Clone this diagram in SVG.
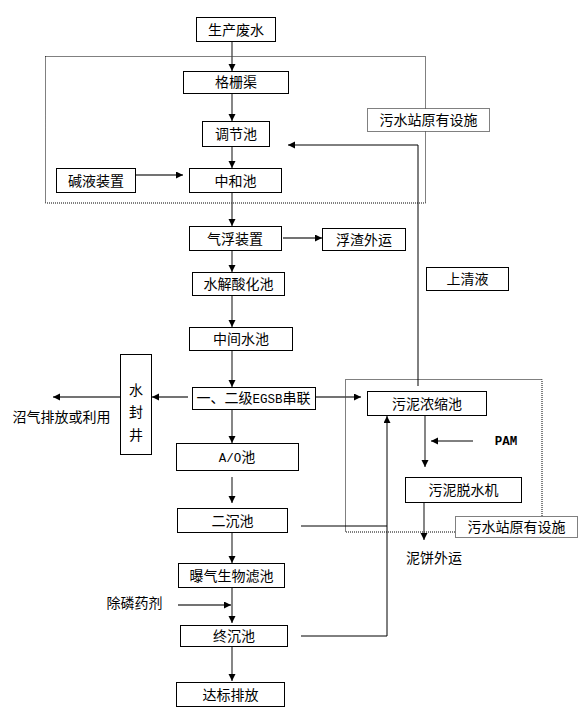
<svg xmlns="http://www.w3.org/2000/svg" width="586" height="714" viewBox="0 0 586 714">
<style>
  .box{fill:#fff;stroke:#000;stroke-width:1}
  .dot{fill:none;stroke:#000;stroke-width:1;stroke-dasharray:1 1}
  .dotl{fill:#fff;stroke:#000;stroke-width:1;stroke-dasharray:1 1}
  .t{font-family:"Noto Sans CJK SC","Liberation Sans",sans-serif;font-size:14px;fill:#000;text-anchor:middle}
  .m{font-family:"Liberation Mono",monospace;font-size:12.5px}
  .f{fill:none;stroke:#444;stroke-width:1.3}
  .k{fill:none;stroke:#000;stroke-width:1}
</style>
<defs>
  <marker id="ah" markerUnits="userSpaceOnUse" markerWidth="8" markerHeight="8" refX="7" refY="3.5" orient="auto">
    <path d="M0,0 L7,3.5 L0,7 z" fill="#000"/>
  </marker>
</defs>
<rect width="586" height="714" fill="#fff"/>
<g id="frames">
  <rect class="dot" x="45.5" y="56.5" width="380" height="146.5"/>
  <rect class="dot" x="345.5" y="379.5" width="196.5" height="152.5"/>
</g>
<g id="connectors">
  <line class="f" x1="232" y1="42" x2="232" y2="71" marker-end="url(#ah)"/>
  <line class="f" x1="232" y1="93" x2="232" y2="121" marker-end="url(#ah)"/>
  <line class="f" x1="232" y1="146" x2="232" y2="168" marker-end="url(#ah)"/>
  <line class="f" x1="135" y1="175" x2="183" y2="175" marker-end="url(#ah)"/>
  <line class="f" x1="232" y1="192" x2="232" y2="226" marker-end="url(#ah)"/>
  <line class="f" x1="283" y1="238" x2="322" y2="238" marker-end="url(#ah)"/>
  <line class="f" x1="232" y1="250" x2="232" y2="272" marker-end="url(#ah)"/>
  <line class="f" x1="232" y1="295" x2="232" y2="327" marker-end="url(#ah)"/>
  <line class="f" x1="232" y1="350" x2="232" y2="387" marker-end="url(#ah)"/>
  <line class="f" x1="188" y1="397" x2="152" y2="397" marker-end="url(#ah)"/>
  <line class="f" x1="120" y1="397" x2="53" y2="397" marker-end="url(#ah)"/>
  <line class="f" x1="315" y1="397" x2="361" y2="397" marker-end="url(#ah)"/>
  <line class="f" x1="232" y1="409" x2="232" y2="443" marker-end="url(#ah)"/>
  <line class="f" x1="232" y1="477" x2="232" y2="503" marker-end="url(#ah)"/>
  <line class="f" x1="232" y1="532" x2="232" y2="563" marker-end="url(#ah)"/>
  <line class="f" x1="232" y1="587" x2="232" y2="623" marker-end="url(#ah)"/>
  <line class="f" x1="178" y1="605" x2="231" y2="605" marker-end="url(#ah)"/>
  <line class="f" x1="232" y1="646" x2="232" y2="681" marker-end="url(#ah)"/>
  <polyline class="k" points="418,386 418,145 288,145" marker-end="url(#ah)"/>
  <line class="k" x1="301" y1="526" x2="387" y2="526"/>
  <polyline class="k" points="301,636 387,636 387,416" marker-end="url(#ah)"/>
  <line class="k" x1="473" y1="441" x2="431" y2="441" marker-end="url(#ah)"/>
  <line class="f" x1="425" y1="415" x2="425" y2="467" marker-end="url(#ah)"/>
  <line class="f" x1="424" y1="502" x2="424" y2="540" marker-end="url(#ah)"/>
</g>
<g id="n-source"><rect class="box" x="196.5" y="17.5" width="79" height="24"/><text class="t" x="236" y="34.5">生产废水</text></g>
<g id="n-grid"><rect class="box" x="183.5" y="71.5" width="105" height="22"/><text class="t" x="236" y="87">格栅渠</text></g>
<g id="n-adjust"><rect class="box" x="202.5" y="121.5" width="67" height="25"/><text class="t" x="236" y="139">调节池</text></g>
<g id="n-alkali"><rect class="box" x="56.5" y="168.5" width="79" height="24"/><text class="t" x="96" y="185.5">碱液装置</text></g>
<g id="n-neutral"><rect class="box" x="189.5" y="168.5" width="92" height="24"/><text class="t" x="235.5" y="185.5">中和池</text></g>
<g id="n-float"><rect class="box" x="189.5" y="226.5" width="92" height="24"/><text class="t" x="235" y="243.5">气浮装置</text></g>
<g id="n-scum"><rect class="box" x="322.5" y="228.5" width="83" height="22"/><text class="t" x="364" y="244.5">浮渣外运</text></g>
<g id="n-hydro"><rect class="box" x="192.5" y="272.5" width="92" height="23"/><text class="t" x="238.5" y="289">水解酸化池</text></g>
<g id="n-mid"><rect class="box" x="189.5" y="327.5" width="103" height="23"/><text class="t" x="241" y="344">中间水池</text></g>
<g id="n-seal"><rect class="box" x="120.5" y="354.5" width="31" height="100"/>
  <text class="t" x="136" y="395">水</text><text class="t" x="136" y="417">封</text><text class="t" x="136" y="440">井</text></g>
<g id="n-egsb"><rect class="box" x="192.5" y="387.5" width="123" height="22"/><text class="t" x="253.5" y="403">一、二级<tspan class="m">EGSB</tspan>串联</text></g>
<g id="n-ao"><rect class="box" x="176.5" y="443.5" width="122" height="27"/><text class="t" x="237" y="462"><tspan class="m">A/O</tspan>池</text></g>
<g id="n-sec"><rect class="box" x="177.5" y="508.5" width="110" height="24"/><text class="t" x="232.5" y="525.5">二沉池</text></g>
<g id="n-baf"><rect class="box" x="178.5" y="563.5" width="106" height="24"/><text class="t" x="231.5" y="580.5">曝气生物滤池</text></g>
<g id="n-final"><rect class="box" x="180.5" y="625.5" width="107" height="21"/><text class="t" x="234" y="641">终沉池</text></g>
<g id="n-out"><rect class="box" x="176.5" y="682.5" width="108" height="24"/><text class="t" x="230.5" y="699.5">达标排放</text></g>
<g id="n-super"><rect class="box" x="426.5" y="267.5" width="82" height="23"/><text class="t" x="467.5" y="284">上清液</text></g>
<g id="n-thick"><rect class="box" x="367.5" y="391.5" width="119" height="24"/><text class="t" x="427" y="408.5">污泥浓缩池</text></g>
<g id="n-dewater"><rect class="box" x="405.5" y="477.5" width="116" height="25"/><text class="t" x="463.5" y="495">污泥脱水机</text></g>
<g id="lbl-1"><rect class="dotl" x="367.5" y="108.5" width="122" height="23"/><text class="t" x="428.5" y="125">污水站原有设施</text></g>
<g id="lbl-2"><rect class="dotl" x="455.5" y="516.5" width="122" height="21"/><text class="t" x="516.5" y="532">污水站原有设施</text></g>
<g id="labels">
  <text class="t" x="61.5" y="422">沼气排放或利用</text>
  <text class="t" x="434" y="563">泥饼外运</text>
  <text class="t" x="134.5" y="608">除磷药剂</text>
  <text class="t m" x="506" y="445" font-weight="bold">PAM</text>
</g>
</svg>
